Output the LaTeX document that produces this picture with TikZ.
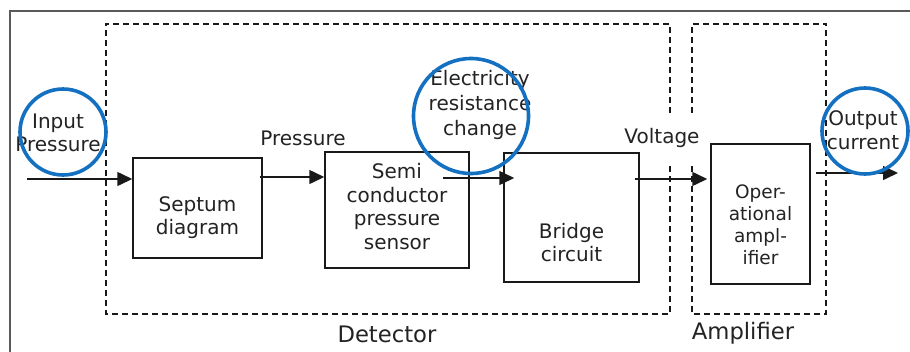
\documentclass[tikz,border=0pt]{standalone}
\usepackage{fontspec}
\setmainfont{DejaVu Sans}
\usetikzlibrary{arrows.meta}
\definecolor{circblue}{RGB}{20,112,192}
\definecolor{txt}{RGB}{35,35,35}
\definecolor{framegray}{RGB}{90,90,90}
\tikzset{
  blk/.style={draw=black!90, line width=1.5pt, inner sep=0pt, rectangle},
  grp/.style={inner sep=0pt, rectangle},
  dashline/.style={draw=black!90, line width=1.6pt, dash pattern=on 6pt off 4pt},
  lbl/.style={text=txt, font=\fontsize{20}{23.5}\selectfont, align=center, inner sep=0pt},
  grplbl/.style={text=txt, font=\fontsize{22.7}{26}\selectfont, inner sep=0pt},
  arr/.style={line width=1.5pt, draw=black!90, -{Triangle[length=15pt,width=14pt]}},
  ring/.style={draw=circblue, line width=3.6pt, circle, inner sep=0pt},
}
\begin{document}
\begin{tikzpicture}[x=1pt,y=-1pt]
\useasboundingbox (0,0) rectangle (910,351);
\fill[white] (0,0) rectangle (910,351);
% frame
\draw[framegray, line width=2pt] (10,352) -- (10,11) -- (911,11);
% group boxes
\node[grp, minimum width=564pt, minimum height=290pt] (det) at (388,169) {};
\node[grp, minimum width=134pt, minimum height=290pt] (amp) at (759,169) {};
\draw[dashline] ([yshift=-89pt]det.north east) -- (det.north east) -- (det.north west)
  -- (det.south west) -- (det.south east) -- ([yshift=-139pt]det.north east);
\draw[dashline] ([yshift=-89pt]amp.north west) -- (amp.north west) -- (amp.north east)
  -- (amp.south east) -- (amp.south west) -- ([yshift=-139pt]amp.north west);
\node[grplbl] (detl) at (387,334) {Detector};
\node[grplbl] (ampl) at (743,333) {Amplifier};
% blocks
\node[blk, minimum width=129pt, minimum height=100pt,
  label={[lbl,yshift=-9.5pt]center:Septum\\diagram}] (sep) at (197.5,208) {};
\node[blk, minimum width=144pt, minimum height=116pt,
  label={[lbl,yshift=3.5pt]center:Semi\\conductor\\pressure\\sensor}] (semi) at (397,210) {};
\node[blk, minimum width=135pt, minimum height=129pt,
  label={[lbl,yshift=-25pt]center:Bridge\\circuit}] (bridge) at (571.5,217.5) {};
\node[blk, minimum width=99pt, minimum height=140pt,
  label={[lbl,font=\fontsize{18.5}{22}\selectfont,yshift=-11pt]center:Oper-\\ational\\ampl-\\ifier}] (opamp) at (760.5,214) {};
% labels
\node[lbl] (inp) at (58,133) {Input\\Pressure};
\node[lbl] (pres) at (303,138) {Pressure};
\node[lbl, font=\fontsize{20}{25}\selectfont] (elec) at (480,105) {Electricity\\resistance\\change};
\node[lbl] (volt) at (662,138) {Voltage};
\node[lbl, font=\fontsize{20}{24}\selectfont] (outc) at (863,130) {Output\\current};
% arrows
\coordinate (start) at (27,179);
\coordinate (finish) at (898,173);
\draw[arr] (start) -- ([yshift=29pt]sep.west);
\draw[arr] ([xshift=-3pt,yshift=31pt]sep.east) -- ([yshift=33pt]semi.west);
\draw[arr] ([xshift=-27pt,yshift=32pt]semi.east) -- ([xshift=11pt,yshift=39.5pt]bridge.west);
\draw[arr] ([xshift=-5pt,yshift=38.5pt]bridge.east) -- ([xshift=-3pt,yshift=35pt]opamp.west);
\draw[arr] ([xshift=5pt,yshift=41pt]opamp.east) -- (finish);
% highlight rings
\node[ring, minimum size=86pt] (r1) at (63,132) {};
\node[ring, minimum size=115pt] (r2) at (471,116) {};
\node[ring, minimum size=86pt] (r3) at (865,131) {};
\end{tikzpicture}
\end{document}
